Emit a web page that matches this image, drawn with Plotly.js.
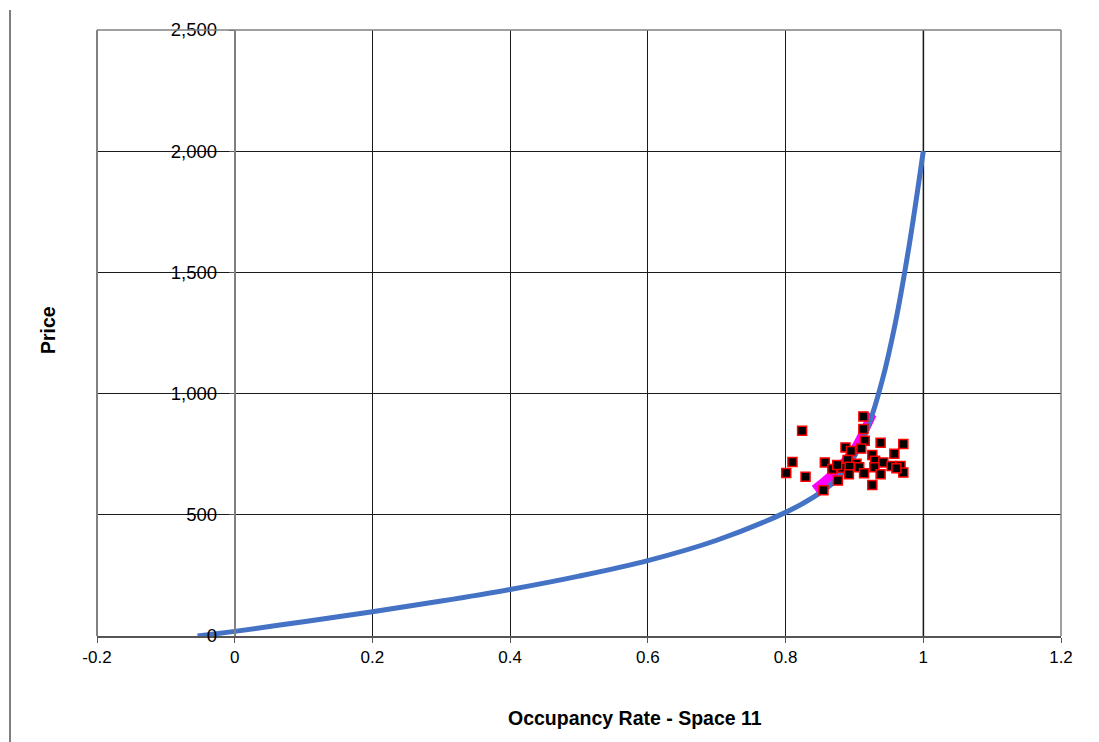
<!DOCTYPE html>
<html>
<head>
<meta charset="utf-8">
<script src="https://cdn.plot.ly/plotly-3.0.1.min.js"></script>
<style>
html,body{margin:0;padding:0;background:#fff;}
#chart{width:1099px;height:742px;}
</style>
</head>
<body>
<div id="chart"></div>
<script>
// Demand curve (price vs occupancy)
const curveX = [-0.054, 0, 0.1, 0.2, 0.3, 0.4, 0.5, 0.6, 0.7, 0.8, 0.84, 0.87, 0.9, 0.92, 0.94, 0.96, 0.98, 1.0];
const curveY = [0, 19, 59, 100, 144, 192, 247, 311, 395, 510, 572, 635, 742, 865, 1050, 1300, 1620, 2000];

// Fitted segment (magenta)
const fitX = [0.842, 0.86, 0.88, 0.9, 0.915, 0.926];
const fitY = [605, 646, 700, 770, 850, 915];

// Observed data points
const obsX = [0.913, 0.913, 0.915, 0.824, 0.938, 0.971, 0.887, 0.910, 0.895, 0.958, 0.926, 0.890, 0.930, 0.942, 0.857, 0.903, 0.868, 0.882, 0.893, 0.907, 0.954, 0.967, 0.929, 0.914, 0.892, 0.938, 0.971, 0.829, 0.876, 0.926, 0.855, 0.801, 0.810, 0.961, 0.875];
const obsY = [906, 854, 806, 847, 797, 792, 778, 773, 763, 752, 747, 726, 723, 716, 716, 711, 689, 694, 698, 696, 701, 701, 696, 671, 667, 667, 674, 657, 641, 623, 601, 672, 718, 692, 705];

const xTickVals = [-0.2, 0, 0.2, 0.4, 0.6, 0.8, 1, 1.2];
const xTickText = ["-0.2", "0", "0.2", "0.4", "0.6", "0.8", "1", "1.2"];
const yTickVals = [0, 500, 1000, 1500, 2000, 2500];
const yTickText = ["0", "500", "1,000", "1,500", "2,000", "2,500"];

const FONT = "Liberation Sans, Arial, sans-serif";

const traces = [
  {
    x: fitX, y: fitY, type: "scatter", mode: "lines",
    line: {color: "#FF00FF", width: 9, shape: "spline"},
    hoverinfo: "skip"
  },
  {
    x: curveX, y: curveY, type: "scatter", mode: "lines",
    line: {color: "#4472C4", width: 5, shape: "spline", smoothing: 1}
  },
  {
    x: obsX, y: obsY, type: "scatter", mode: "markers",
    marker: {symbol: "square", size: 9, color: "#000000", line: {color: "#FF0000", width: 1.5}}
  }
];

const layout = {
  width: 1099, height: 742,
  margin: {l: 97, r: 38, t: 30, b: 106},
  paper_bgcolor: "#ffffff",
  plot_bgcolor: "#ffffff",
  showlegend: false,
  font: {family: FONT, size: 16, color: "#000"},
  xaxis: {
    range: [-0.2, 1.2],
    tickvals: xTickVals, ticktext: xTickText,
    showgrid: true, gridcolor: "#1a1a1a", gridwidth: 1,
    zeroline: true, zerolinecolor: "#808080", zerolinewidth: 2,
    showline: true, linecolor: "#555", linewidth: 2, mirror: false,
    ticks: "outside", ticklen: 5, tickcolor: "#555",
    tickfont: {family: FONT, size: 17, color: "#000"},
    fixedrange: true
  },
  yaxis: {
    range: [0, 2500],
    tickvals: yTickVals, ticktext: yTickText,
    anchor: "free", position: 0.2 / 1.4,
    showgrid: true, gridcolor: "#1a1a1a", gridwidth: 1,
    zeroline: false,
    showline: true, linecolor: "#808080", linewidth: 2,
    ticks: "outside", ticklen: 5, tickcolor: "#555",
    ticklabelstandoff: 8,
    tickfont: {family: FONT, size: 18.5, color: "#000"},
    fixedrange: true
  },
  shapes: [
    {type: "line", xref: "paper", yref: "paper", x0: 0, x1: 0, y0: 0, y1: 1, line: {color: "#808080", width: 2}},
    {type: "line", xref: "paper", yref: "paper", x0: 0, x1: 1, y0: 1, y1: 1, line: {color: "#808080", width: 1.5}},
    {type: "line", xref: "paper", yref: "paper", x0: 1, x1: 1, y0: 0, y1: 1, line: {color: "#808080", width: 1.5}},
    {type: "line", xref: "x", yref: "paper", x0: 1, x1: 1, y0: 0, y1: 1, line: {color: "#808080", width: 2}, layer: "below"},
    {type: "line", xref: "paper", yref: "paper", x0: (10 - 97) / 964, x1: (10 - 97) / 964, y0: (636 - 742) / 606, y1: (636 - 10) / 606, line: {color: "#000", width: 1}}
  ],
  annotations: [
    {text: "<b>Occupancy Rate - Space 11</b>", xref: "paper", yref: "paper",
     x: (635 - 97) / 964, y: (636 - 718) / 606, showarrow: false,
     xanchor: "center", yanchor: "middle", font: {family: FONT, size: 19.5, color: "#000"}},
    {text: "<b>Price</b>", xref: "paper", yref: "paper",
     x: (48 - 97) / 964, y: (636 - 330) / 606, showarrow: false, textangle: -90,
     xanchor: "center", yanchor: "middle", font: {family: FONT, size: 19.5, color: "#000"}}
  ]
};

Plotly.newPlot("chart", traces, layout, {displayModeBar: false, staticPlot: true});
</script>
</body>
</html>
